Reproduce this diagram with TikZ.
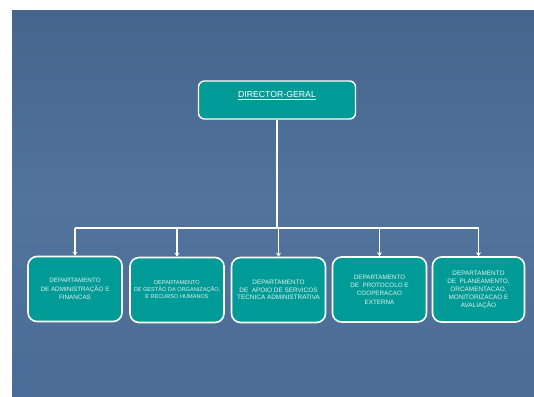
\documentclass[tikz,border=0pt]{standalone}
\usepackage{fontspec}
\setmainfont{Liberation Sans}
\usetikzlibrary{arrows.meta}
\definecolor{bgtop}{HTML}{45658D}
\definecolor{bgmid}{HTML}{52739B}
\definecolor{bgbot}{HTML}{4B6C96}
\definecolor{tealbox}{HTML}{009B96}
\definecolor{boxtext}{HTML}{E6F2F2}
\tikzset{
  deptbox/.style={draw=white, line width=1.6pt, fill=tealbox, rounded corners=9pt,
    minimum width=94pt, minimum height=65pt, inner sep=1pt, align=center,
    text=boxtext},
  headbox/.style={draw=white, line width=1.4pt, fill=tealbox, rounded corners=6pt,
    minimum width=157pt, minimum height=38pt, inner sep=0pt, text=white,
    font=\fontsize{8.7}{10}\selectfont},
  wire/.style={draw=white, line width=1.8pt},
  arrowwire/.style={wire, -{Stealth[length=4pt,width=5pt]}},
  txtA/.style={font=\fontsize{6.3}{8.3}\selectfont},
  txtB/.style={font=\fontsize{5.6}{7}\selectfont},
}
\begin{document}
\begin{tikzpicture}[x=1pt,y=-1pt]
\useasboundingbox (0,0) rectangle (534,396);
\fill[white] (0,0) rectangle (534,396);
\shade[top color=bgtop, bottom color=bgmid] (12,11) rectangle (534,200);
\shade[top color=bgmid, bottom color=bgbot] (12,200) rectangle (534,396);

\node[headbox] (dir) at (277,100) {};
\node[text=white, font=\fontsize{8.7}{10}\selectfont] (dirlabel) at (277,96) {\underline{DIRECTOR-GERAL}};

\node[deptbox, txtA] (b1) at (75,289) {DEPARTAMENTO\\DE ADMINISTRAÇÃO E\\FINANCAS};
\node[deptbox, txtB] (b2) at (177,290) {DEPARTAMENTO\\DE GESTÃO DA ORGANIZAÇÃO,\\E RECURSO HUMANOS};
\node[deptbox, txtA, font=\fontsize{6.4}{7.6}\selectfont] (b3) at (278.5,290) {DEPARTAMENTO\\DE\ \ APOIO DE SERVICOS\\TECNICA ADMINISTRATIVA};
\node[deptbox, txtA] (b4) at (379.5,289.5) {DEPARTAMENTO\\DE\ \ PROTOCOLO E\\COOPERACAO\\EXTERNA};
\node[deptbox, txtA, minimum width=92pt, font=\fontsize{6.4}{8}\selectfont] (b5) at (478.5,289.5) {DEPARTAMENTO\\DE\ \ PLANEAMENTO,\\ORCAMENTACAO,\\MONITORIZACAO E\\AVALIAÇÃO};

\coordinate (bus) at (277,228);
\draw[wire] (dir.south) -- (bus);
\draw[wire] (b1.north |- bus) -- (b5.north |- bus);
\foreach \b in {b1,b2,b3,b4,b5}{
  \draw[arrowwire] (\b.north |- bus) -- (\b.north);
}
\end{tikzpicture}
\end{document}
